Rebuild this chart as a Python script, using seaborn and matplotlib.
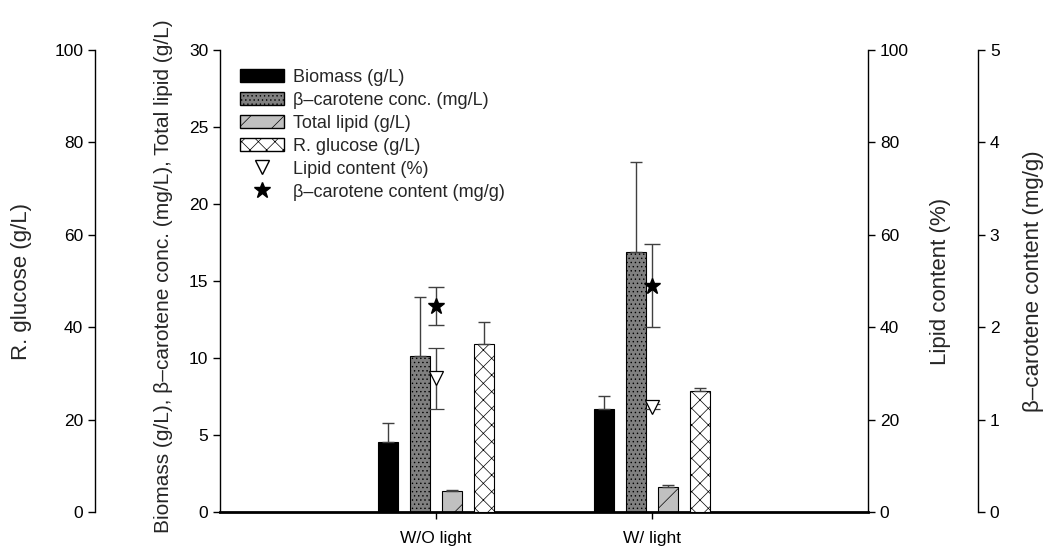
import numpy as np
import matplotlib
matplotlib.use('Agg')
import matplotlib.pyplot as plt
from matplotlib.patches import Patch
from matplotlib.lines import Line2D
import seaborn as sns

# values
conditions = ['W/O light', 'W/ light']
biomass = [4.55, 6.7]
biomass_err = [1.25, 0.85]
carotene_conc = [10.15, 16.9]
carotene_conc_err = [3.8, 5.85]
total_lipid = [1.35, 1.6]
total_lipid_err = [0.05, 0.15]
glucose = [36.4, 26.2]
glucose_err = [4.8, 0.7]
lipid_content = [28.9, 22.8]
lipid_content_err = [6.6, 0.6]
carotene_content = [2.23, 2.45]
carotene_content_err = [0.21, 0.45]

sns.set_style('ticks')
plt.rcParams['font.family'] = ['Liberation Sans', 'DejaVu Sans']
plt.rcParams['font.size'] = 12.5
plt.rcParams['hatch.linewidth'] = 0.5

x_pos = np.array([1.0, 2.0])
step = 0.148
bar_w = 0.093
err_color = '#404040'
label_size = 16

fig = plt.figure(figsize=(10.48, 5.52), dpi=100)
ax = fig.add_axes([220 / 1048, 40 / 552, 648 / 1048, 462 / 552])
ax_glu = ax.twinx()
ax_lip = ax.twinx()
ax_car = ax.twinx()


def draw_bars(axis, values, errs, offset, color, hatch):
    xs = x_pos + offset
    sns.barplot(x=xs, y=values, ax=axis, native_scale=True, orient='x',
                width=bar_w, color=color, saturation=1, errorbar=None,
                edgecolor='black', linewidth=0.8, hatch=hatch)
    axis.errorbar(xs, values, yerr=[np.zeros(len(values)), errs], fmt='none',
                  ecolor=err_color, elinewidth=1, capsize=4, capthick=1)


draw_bars(ax, biomass, biomass_err, -1.5 * step, 'black', None)
draw_bars(ax, carotene_conc, carotene_conc_err, -0.5 * step, '#808080', '....')
draw_bars(ax, total_lipid, total_lipid_err, 0.5 * step, '#c0c0c0', '/')
draw_bars(ax_glu, glucose, glucose_err, 1.5 * step, 'white', 'xx')

ax_lip.errorbar(x_pos, lipid_content, yerr=lipid_content_err, fmt='v',
                mfc='white', mec='black', mew=0.9, ms=10, ecolor=err_color,
                elinewidth=1, capsize=6, capthick=1)
ax_car.errorbar(x_pos, carotene_content, yerr=carotene_content_err, fmt='*',
                mfc='black', mec='black', ms=12, ecolor=err_color,
                elinewidth=1, capsize=6, capthick=1)

# axes limits and ticks
ax.set_xlim(0, 3)
ax.set_xticks(x_pos)
ax.set_xticklabels(conditions)
ax.set_ylim(0, 30)
ax.set_yticks(np.arange(0, 31, 5))
ax_glu.set_ylim(0, 100)
ax_glu.set_yticks(np.arange(0, 101, 20))
ax_lip.set_ylim(0, 100)
ax_lip.set_yticks(np.arange(0, 101, 20))
ax_car.set_ylim(0, 5)
ax_car.set_yticks(np.arange(0, 6, 1))

for a in [ax, ax_glu, ax_lip, ax_car]:
    for s in a.spines.values():
        s.set_visible(False)
        s.set_linewidth(1)
        s.set_color('black')
    a.tick_params(direction='out', length=5, width=1, colors='black',
                  labelsize=12.5)

ax.spines['left'].set_visible(True)
ax.spines['bottom'].set_visible(True)
ax.spines['bottom'].set_linewidth(2)
ax.tick_params(axis='x', length=5, pad=9)

ax_glu.spines['left'].set_visible(True)
ax_glu.spines['left'].set_position(('axes', -125 / 648))
ax_glu.yaxis.set_ticks_position('left')
ax_glu.yaxis.set_label_position('left')

ax_lip.spines['right'].set_visible(True)

ax_car.spines['right'].set_visible(True)
ax_car.spines['right'].set_position(('axes', 1 + 110 / 648))

ax_glu.set_ylabel('R. glucose (g/L)', fontsize=label_size)
ax_glu.yaxis.set_label_coords(-0.29, 0.5)
ax.set_ylabel('Biomass (g/L), \u03b2\u2013carotene conc. (mg/L), Total lipid (g/L)',
              fontsize=15)
ax.yaxis.set_label_coords(-0.073, 0.51)
ax_lip.set_ylabel('Lipid content (%)', fontsize=label_size)
ax_lip.yaxis.set_label_coords(1.096, 0.5)
ax_car.set_ylabel('\u03b2\u2013carotene content (mg/g)', fontsize=label_size)
ax_car.yaxis.set_label_coords(1.239, 0.5)
ax.set_xlabel('')

handles = [
    Patch(facecolor='black', edgecolor='black', label='Biomass (g/L)'),
    Patch(facecolor='#808080', edgecolor='black', hatch='....',
          label='\u03b2\u2013carotene conc. (mg/L)'),
    Patch(facecolor='#c0c0c0', edgecolor='black', hatch='/',
          label='Total lipid (g/L)'),
    Patch(facecolor='white', edgecolor='black', hatch='xx',
          label='R. glucose (g/L)'),
    Line2D([], [], ls='none', marker='v', mfc='white', mec='black', ms=10,
           label='Lipid content (%)'),
    Line2D([], [], ls='none', marker='*', mfc='black', mec='black', ms=12,
           label='\u03b2\u2013carotene content (mg/g)'),
]
ax_car.legend(handles=handles, loc='upper left', bbox_to_anchor=(0.02, 0.975),
              frameon=False, fontsize=13, handlelength=2.4,
              handleheight=0.75, labelspacing=0.33, borderaxespad=0,
              handletextpad=0.55)

fig.savefig('out.png', dpi=100)
